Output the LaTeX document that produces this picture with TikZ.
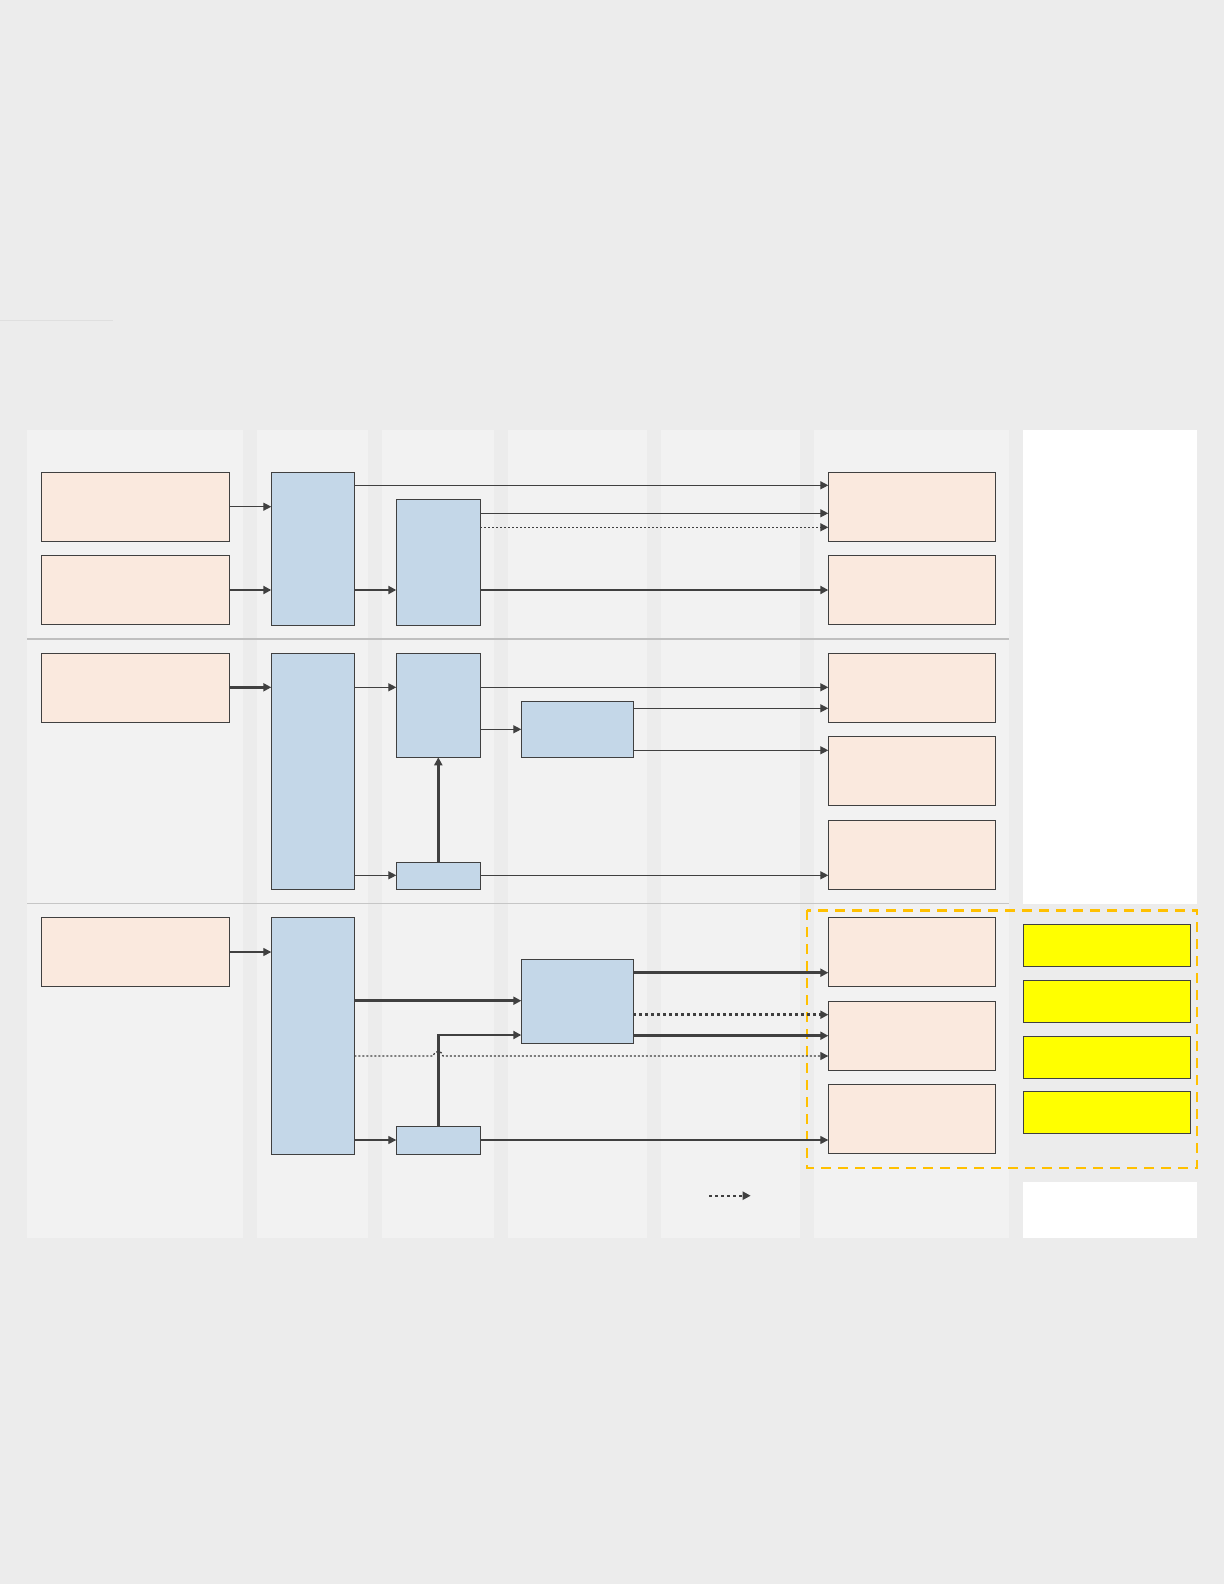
\documentclass[tikz,border=0pt]{standalone}
\usepackage{tikz}
\usetikzlibrary{arrows.meta, positioning}

\definecolor{hgrund}{HTML}{ECECEC}
\definecolor{spalte}{HTML}{F2F2F2}
\definecolor{rosa}{HTML}{FAE9DE}
\definecolor{blau}{HTML}{C4D7E8}
\definecolor{gelb}{HTML}{FFFF00}
\definecolor{orange}{HTML}{FFC000}
\definecolor{linie}{HTML}{404040}

\tikzset{
	kasten/.style={draw=linie, line width=0.7pt, anchor=north west, inner sep=0pt, outer sep=0pt},
	quelle/.style={kasten, fill=rosa, minimum width=94pt, minimum height=34.5pt},
	ziel/.style={kasten, fill=rosa, minimum width=83.5pt, minimum height=34.5pt},
	modul/.style={kasten, fill=blau},
	marke/.style={kasten, fill=gelb, minimum width=83.5pt, minimum height=21pt},
	pfeil/.style={draw=linie, line width=0.65pt, -{Triangle[length=4pt,width=4pt]}},
	dick/.style={pfeil, line width=1.25pt},
	punkt/.style={pfeil, dash pattern=on 1pt off 1pt},
	dickpunkt/.style={dick, dash pattern=on 1.5pt off 1.5pt}
}

\begin{document}
\begin{tikzpicture}[x=0.5pt, y=-0.5pt]
			% Hintergrund
			\fill[hgrund] (0,0) rectangle (1224,1584);
			\useasboundingbox (0,0) rectangle (1224,1584);
			\draw[gray!25, line width=0.5pt] (0,320) -- (113,320);
			
			% Spalten
			\foreach \a/\b in {27/243, 257/368, 382/494, 508/647, 661/800, 814/1009} {
				\fill[spalte] (\a,430) rectangle (\b,1237.7);
			}
			\fill[white] (1023,430) rectangle (1197,904);
			\fill[white] (1023,1182) rectangle (1197,1237.7);
			
			% Trennlinien
			\draw[gray!50, line width=1pt] (27,638.7) -- (1009,638.7);
			\draw[gray!45, line width=0.5pt] (27,903.3) -- (1009,903.3);
			
			% Rahmen
			\draw[orange, line width=1.2pt, dash pattern=on 5pt off 3.5pt] (806.7,910.3) rectangle (1197,1168);
			
			% Oberer Bereich
			\node[quelle] (q1) at (41.3,472.3) {};
			\node[quelle] (q2) at (41.3,555.3) {};
			\node[modul, minimum width=41.5pt, minimum height=76.5pt] (m1) at (271.3,472.3) {};
			\node[modul, minimum width=42pt, minimum height=63pt] (m2) at (396.3,499.3) {};
			\node[ziel] (z1) at (828.3,472.3) {};
			\node[ziel] (z2) at (828.3,555.3) {};
			
			\draw[pfeil] (q1.east |- 0,506.7) -- (m1.west |- 0,506.7);
			\draw[dick] (q2.east |- 0,590) -- (m1.west |- 0,590);
			\draw[pfeil] (m1.east |- 0,485.3) -- (z1.west |- 0,485.3);
			\draw[dick] (m1.east |- 0,590) -- (m2.west |- 0,590);
			\draw[pfeil] (m2.east |- 0,513.3) -- (z1.west |- 0,513.3);
			\draw[punkt] (m2.east |- 0,527.3) -- (z1.west |- 0,527.3);
			\draw[dick] (m2.east |- 0,590) -- (z2.west |- 0,590);
			
			% Mittlerer Bereich
			\node[quelle] (q3) at (41.3,653.3) {};
			\node[modul, minimum width=41.5pt, minimum height=118pt] (m3) at (271.3,653.3) {};
			\node[modul, minimum width=42pt, minimum height=52pt] (m4) at (396.3,653.3) {};
			\node[modul, minimum width=56pt, minimum height=28pt] (m5) at (521.3,701.3) {};
			\node[modul, minimum width=42pt, minimum height=13.5pt] (m6) at (396.3,862.3) {};
			\node[ziel] (z3) at (828.3,653.3) {};
			\node[ziel] (z4) at (828.3,736.3) {};
			\node[ziel] (z5) at (828.3,820.3) {};
			
			\draw[dick] (q3.east |- 0,687.3) -- (m3.west |- 0,687.3);
			\draw[pfeil] (m3.east |- 0,687.3) -- (m4.west |- 0,687.3);
			\draw[pfeil] (m4.east |- 0,687.3) -- (z3.west |- 0,687.3);
			\draw[pfeil] (m4.east |- 0,729.3) -- (m5.west |- 0,729.3);
			\draw[pfeil] (m5.east |- 0,708.3) -- (z3.west |- 0,708.3);
			\draw[pfeil] (m5.east |- 0,750.3) -- (z4.west |- 0,750.3);
			\draw[pfeil] (m3.east |- 0,875.3) -- (m6.west |- 0,875.3);
			\draw[pfeil] (m6.east |- 0,875.3) -- (z5.west |- 0,875.3);
			\draw[dick] (m6.north) -- (m4.south);
			
			% Unterer Bereich
			\node[quelle] (q4) at (41.3,917.3) {};
			\node[modul, minimum width=41.5pt, minimum height=118.5pt] (m7) at (271.3,917.3) {};
			\node[modul, minimum width=56pt, minimum height=42pt] (m8) at (521.3,959.3) {};
			\node[modul, minimum width=42pt, minimum height=14pt] (m9) at (396.3,1126.3) {};
			\node[ziel] (z6) at (828.3,917.3) {};
			\node[ziel] (z7) at (828.3,1001.3) {};
			\node[ziel] (z8) at (828.3,1084.3) {};
			
			\draw[pfeil] (q4.east |- 0,952) -- (m7.west |- 0,952);
			\draw[dick] (m7.east |- 0,1000.7) -- (m8.west |- 0,1000.7);
			\draw[pfeil] (m7.east |- 0,1140) -- (m9.west |- 0,1140);
			\draw[pfeil] (m9.east |- 0,1140) -- (z8.west |- 0,1140);
			\draw[dick] (m9.north) |- (m8.west |- 0,1035);
			\draw[dick] (m8.east |- 0,972.7) -- (z6.west |- 0,972.7);
			\draw[dickpunkt] (m8.east |- 0,1014.7) -- (z7.west |- 0,1014.7);
			\draw[dick] (m8.east |- 0,1035.7) -- (z7.west |- 0,1035.7);
			\draw[punkt] (m7.east |- 0,1056) -- (433,1056) .. controls (434,1050) and (442,1050) .. (443,1056) -- (z7.west |- 0,1056);
			
			% Markierungen
			\foreach \y [count=\i] in {924.3, 980.3, 1036.3, 1091.3} {
				\node[marke] (g\i) at (1023.3,\y) {};
			}
			
			% Legende
			\coordinate (l1) at (709,1195.7);
			\coordinate (l2) at (750.7,1195.7);
			\draw[dickpunkt, line width=1pt] (l1) -- (l2);
		\end{tikzpicture}
\end{document}
